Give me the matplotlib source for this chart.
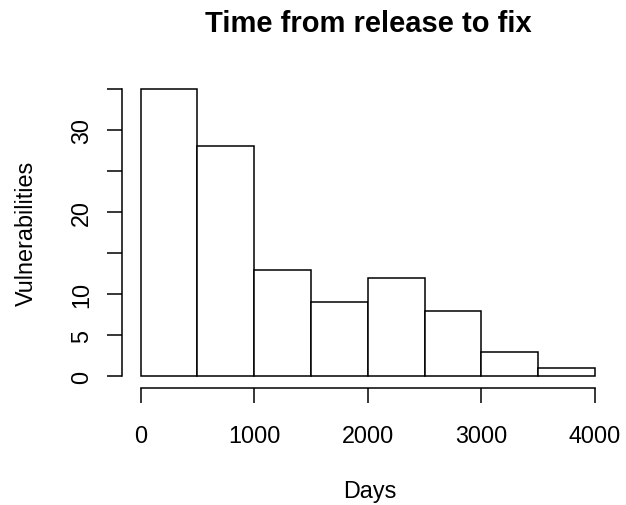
import numpy as np
import matplotlib.pyplot as plt

plt.rcParams['font.family'] = ['Liberation Sans', 'DejaVu Sans']

# histogram bins (days) and counts per bin
bin_edges = [0, 500, 1000, 1500, 2000, 2500, 3000, 3500, 4000]
counts = [35, 28, 13, 9, 12, 8, 3, 1]
x_ticks = [0, 1000, 2000, 3000, 4000]
y_ticks = [0, 5, 10, 15, 20, 25, 30, 35]
y_labels = ['0', '5', '10', '', '20', '', '30', '']

W, H = 626, 506
fs = 16.8
fig = plt.figure(figsize=(W / 100, H / 100), dpi=100)
ax = fig.add_axes([122.5 / W, 1 - 388.8 / H, (613.2 - 122.5) / W, (388.8 - 78.5) / H])

edges = np.array(bin_edges)
ax.bar(edges[:-1], counts, width=np.diff(edges), align='edge',
       facecolor='white', edgecolor='black', linewidth=1.1)

ax.set_xlim(-160, 4160)
ax.set_ylim(-1.4, 36.4)
for s in ['top', 'right']:
    ax.spines[s].set_visible(False)
ax.spines['bottom'].set_bounds(0, 4000)
ax.spines['left'].set_bounds(0, 35)
for s in ['bottom', 'left']:
    ax.spines[s].set_linewidth(1.1)

ax.set_xticks(x_ticks)
ax.set_yticks(y_ticks)
ax.set_yticklabels(y_labels, rotation=90, va='center')
ax.tick_params(direction='out', length=10.5, width=1.1, labelsize=fs)
ax.tick_params(axis='x', pad=15.5)
ax.tick_params(axis='y', pad=10.7)

fig.text(367.9 / W, 1 - 31.7 / H, 'Time from release to fix', ha='center', va='baseline',
         fontsize=21, fontweight='bold')
fig.text(370 / W, 1 - 498.3 / H, 'Days', ha='center', va='baseline', fontsize=fs)
fig.text(33 / W, 1 - 233.5 / H, 'Vulnerabilities', ha='center', va='baseline',
         rotation=90, rotation_mode='anchor', fontsize=fs)

fig.savefig('out.png', dpi=100)
